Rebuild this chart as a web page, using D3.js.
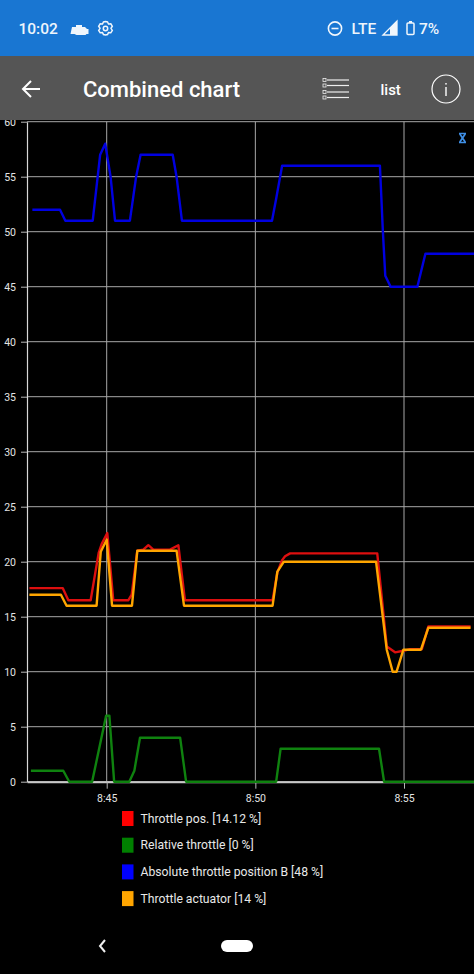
<!DOCTYPE html>
<html>
<head>
<meta charset="utf-8">
<script src="https://cdn.jsdelivr.net/npm/d3@7/dist/d3.min.js"></script>
<style>
html,body{margin:0;padding:0;background:#000;overflow:hidden}
svg{display:block}
text{font-family:Roboto,sans-serif}
</style>
</head>
<body>
<div id="chart"></div>
<script>
// Time in minutes after 8:00, values in percent
const redTimes = [42.40,43.52,43.71,44.46,44.73,44.83,45.02,45.22,45.73,45.84,46.03,46.23,46.40,46.57,47.13,47.41,47.63,50.58,50.74,50.89,51.00,51.17,54.10,54.42,54.70,54.98,55.20,55.60,55.82,57.24];
const redValues = [17.6,17.6,16.5,16.5,20.8,21.6,22.6,16.5,16.5,17,21,21.1,21.5,21.1,21.1,21.5,16.5,16.5,19,20.1,20.5,20.76,20.76,12.3,11.76,11.9,12.05,12.05,14.12,14.12];
const greenTimes = [42.45,43.54,43.74,44.51,44.98,45.09,45.25,45.76,45.93,46.12,47.47,47.67,50.70,50.85,54.16,54.33,57.40];
const greenValues = [1,1,0,0,6,6,0,0,1,4,4,0,0,3,3,0,0];
const blueTimes = [42.50,43.43,43.61,44.53,44.78,44.95,45.13,45.28,45.78,45.99,46.14,47.22,47.35,47.53,50.56,50.70,50.90,54.19,54.29,54.37,54.55,55.45,55.72,57.40];
const blueValues = [52,52,51,51,57,58,55,51,51,55,57,57,55,51,51,53,56,56,50,46,45,45,48,48];
const orangeTimes = [42.40,43.46,43.65,44.66,44.80,45.00,45.18,45.85,46.03,47.35,47.60,50.58,50.74,50.96,54.06,54.42,54.62,54.75,54.98,55.57,55.82,57.24];
const orangeValues = [17,17,16,16,20.9,22,16,16,21,21,16,16,19.1,20,20,12,10,10,12,12,14,14];

const xTickValues = [45,50,55];
const yTickValues = [0,5,10,15,20,25,30,35,40,45,50,55,60];
const seriesNames = ["Throttle pos. [14.12 %]","Relative throttle [0 %]","Absolute throttle position B [48 %]","Throttle actuator [14 %]"];
const seriesColors = ["#ff0000","#008000","#0000ff","#ffa500"];
const lineColors = ["#dd0f0f","#0f820f","#0000e0","#ffa500"];
const seriesTimes = [redTimes,greenTimes,blueTimes,orangeTimes];
const seriesValues = [redValues,greenValues,blueValues,orangeValues];

const W=474,H=974;
const plot={left:27,right:474,top:121.7,bottom:781.7};
const svg=d3.select("#chart").append("svg").attr("width",W).attr("height",H);
svg.append("rect").attr("width",W).attr("height",H).attr("fill","#000");

const pxPerMin=29.73;
const x=d3.scaleLinear().domain([45-(106.7-plot.left)/pxPerMin,45+(plot.right-106.7)/pxPerMin]).range([plot.left,plot.right]);
const y=d3.scaleLinear().domain([0,60]).range([plot.bottom,plot.top]);

svg.append("defs").append("clipPath").attr("id","plotClip").append("rect")
  .attr("x",plot.left).attr("y",plot.top).attr("width",plot.right-plot.left).attr("height",plot.bottom-plot.top+2);

// grid
const grid=svg.append("g");
grid.selectAll("line.h").data(yTickValues).join("line").attr("class","h")
  .attr("x1",plot.left).attr("x2",plot.right).attr("y1",d=>y(d)).attr("y2",d=>y(d))
  .attr("stroke","#a8a8a8").attr("stroke-width",1);
grid.selectAll("line.v").data(xTickValues).join("line").attr("class","v")
  .attr("x1",d=>x(d)).attr("x2",d=>x(d)).attr("y1",plot.top).attr("y2",plot.bottom)
  .attr("stroke","#a8a8a8").attr("stroke-width",1);

// axes
const yAxis=svg.append("g").attr("transform",`translate(${plot.left},0)`)
  .call(d3.axisLeft(y).tickValues(yTickValues).tickSize(6).tickPadding(5).tickSizeOuter(0));
const xAxis=svg.append("g").attr("transform",`translate(0,${plot.bottom})`)
  .call(d3.axisBottom(x).tickValues(xTickValues).tickFormat(d=>"8:"+d).tickSize(7).tickPadding(6).tickSizeOuter(0));
[yAxis,xAxis].forEach(a=>{
  a.selectAll("text").attr("fill","#e4e4e4").style("font-size","10.5px").style("font-family","Roboto,sans-serif");
  a.selectAll(".tick line").attr("stroke","#b8b8b8");
});
yAxis.select(".domain").attr("stroke","#d8d8d8").attr("stroke-width",1.2);
xAxis.select(".domain").attr("stroke","#c8c8c8").attr("stroke-width",2);

// lines
const line=d3.line().x(d=>x(d[0])).y(d=>y(d[1]));
const lines=svg.append("g").attr("clip-path","url(#plotClip)");
seriesTimes.forEach((t,i)=>{
  lines.append("path").attr("d",line(d3.zip(t,seriesValues[i])))
    .attr("fill","none").attr("stroke",lineColors[i]).attr("stroke-width",2.4)
    .attr("stroke-linejoin","round");
});

// zoom marker in the plot corner
svg.append("path").attr("d","M459,133.5H466M459,142.5H466M459.8,134L465.2,142M465.2,134L459.8,142")
  .attr("fill","none").attr("stroke","#3f8fe6").attr("stroke-width",1.7);

// legend
const legend=svg.append("g").selectAll("g").data(seriesNames).join("g")
  .attr("transform",(d,i)=>`translate(122,${811+i*26.7})`);
legend.append("rect").attr("width",11.5).attr("height",15).attr("fill",(d,i)=>seriesColors[i]);
legend.append("text").attr("x",18.5).attr("y",7.5).attr("dy","0.35em").attr("fill","#e8e8e8")
  .style("font-size","12.2px").text(d=>d);

// status bar
svg.append("rect").attr("width",W).attr("height",56).attr("fill","#1976d2");
const status=svg.append("g").attr("fill","#fff");
status.append("text").attr("x",18.5).attr("y",34).style("font-size","15.5px").style("font-weight",500).attr("fill","#eef5fc").text("10:02");
status.append("path").attr("d","M72,27h4v-2h6v2h3l2,2h1.5v5h-2l-1,1h-9l-2,-1h-4z").attr("fill","#f0f6fc");
const gear=svg.append("g").attr("fill","none").attr("stroke","#f0f6fc").attr("stroke-width",1.5);
gear.append("path").attr("d","M105.5,21.5l2,0.5l1,2l2.3,-0.2l1.5,2.4l-1.3,2.1l1.3,2.1l-1.5,2.4l-2.3,-0.2l-1,2l-2,0.5l-2,-0.5l-1,-2l-2.3,0.2l-1.5,-2.4l1.3,-2.1l-1.3,-2.1l1.5,-2.4l2.3,0.2l1,-2z");
gear.append("circle").attr("cx",105.5).attr("cy",28.5).attr("r",2.2);
const dnd=svg.append("g").attr("stroke","#f0f6fc").attr("fill","none").attr("stroke-width",1.6);
dnd.append("circle").attr("cx",335).attr("cy",28.5).attr("r",6.6);
dnd.append("line").attr("x1",331.5).attr("x2",338.5).attr("y1",28.5).attr("y2",28.5);
status.append("text").attr("x",351.5).attr("y",34).style("font-size","15.5px").style("font-weight",500).attr("fill","#eef5fc").text("LTE");
svg.append("path").attr("d","M383,35L397,21V35Z").attr("fill","none").attr("stroke","#f0f6fc").attr("stroke-width",1.3);
svg.append("path").attr("d","M390,35V28L397,21V35Z").attr("fill","#f0f6fc");
svg.append("rect").attr("x",407).attr("y",23).attr("width",7).attr("height",11.5).attr("rx",1).attr("fill","none").attr("stroke","#f0f6fc").attr("stroke-width",1.5);
svg.append("rect").attr("x",409).attr("y",21).attr("width",3).attr("height",2).attr("fill","#f0f6fc");
status.append("text").attr("x",419).attr("y",34).style("font-size","15.5px").style("font-weight",500).attr("fill","#eef5fc").text("7%");

// app bar
svg.append("rect").attr("y",56).attr("width",W).attr("height",64).attr("fill","#555555");
svg.append("path").attr("d","M40,89H23M31,81L23,89L31,97").attr("fill","none").attr("stroke","#fff").attr("stroke-width",2);
svg.append("text").attr("x",83).attr("y",97).attr("fill","#fff").style("font-size","22px").style("font-weight",500).text("Combined chart");
const listIcon=svg.append("g");
[80,85.5,92,97.5].forEach(v=>{
  listIcon.append("rect").attr("x",323).attr("y",v-1.5).attr("width",3).attr("height",3).attr("fill","none").attr("stroke","#eee").attr("stroke-width",0.8);
  listIcon.append("line").attr("x1",327).attr("x2",349).attr("y1",v).attr("y2",v).attr("stroke","#eee").attr("stroke-width",1.2);
});
svg.append("text").attr("x",380.5).attr("y",95).attr("fill","#fff").style("font-size","15px").style("font-weight",500).text("list");
svg.append("circle").attr("cx",446).attr("cy",89).attr("r",14).attr("fill","none").attr("stroke","#fff").attr("stroke-width",1.2);
svg.append("rect").attr("x",445.3).attr("y",87).attr("width",1.4).attr("height",9).attr("fill","#fff");
svg.append("rect").attr("x",445.3).attr("y",83).attr("width",1.4).attr("height",1.6).attr("fill","#fff");

// navigation bar
svg.append("path").attr("d","M105,940L100,946L105,952").attr("fill","none").attr("stroke","#eee").attr("stroke-width",2);
svg.append("rect").attr("x",221).attr("y",940).attr("width",32).attr("height",12).attr("rx",6).attr("fill","#fff");
</script>
</body>
</html>
